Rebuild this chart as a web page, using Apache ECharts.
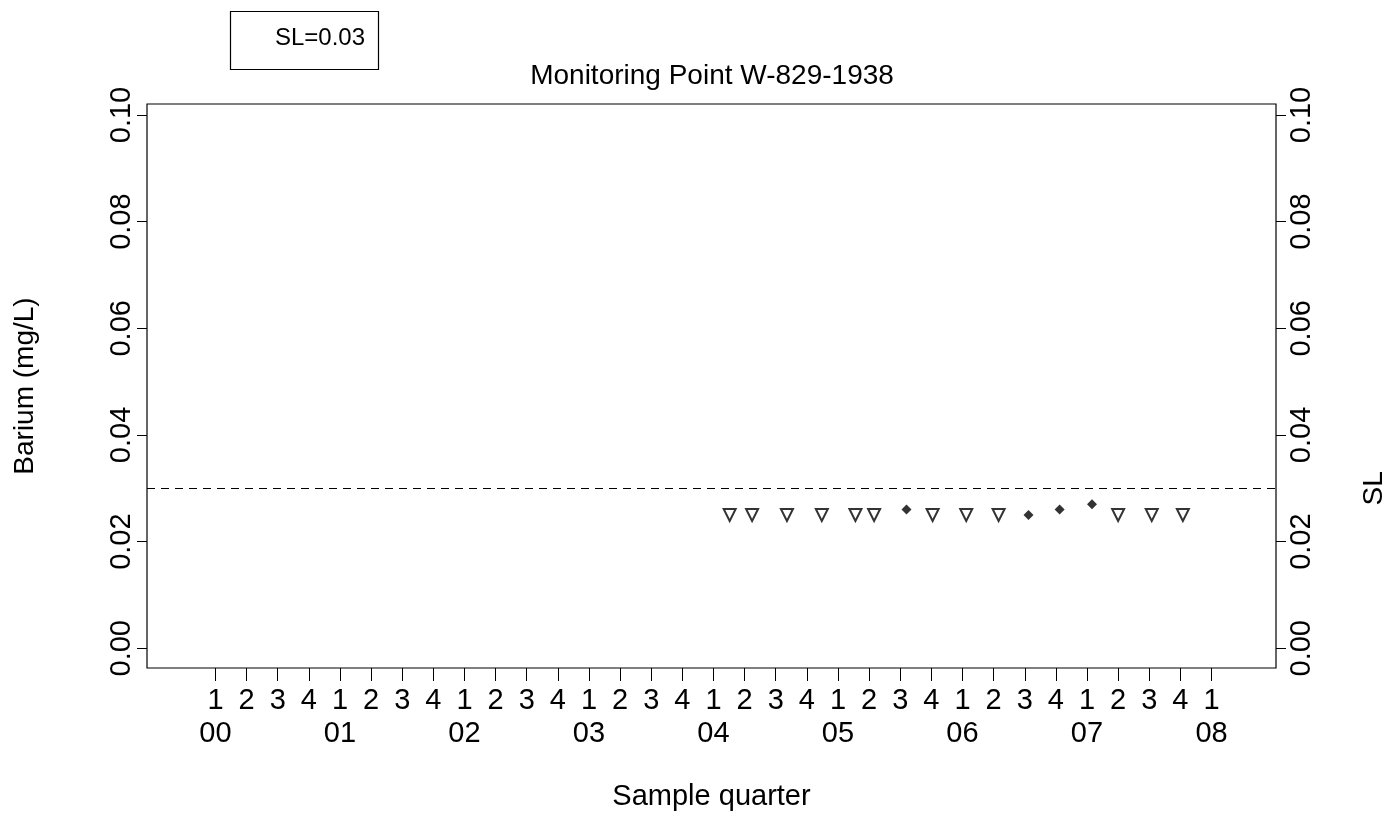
<!DOCTYPE html>
<html><head><meta charset="utf-8">
<script src="https://cdn.jsdelivr.net/npm/echarts@6/dist/echarts.min.js"></script>
<style>html,body{margin:0;padding:0;background:#fff}#c{width:1398px;height:816px}</style>
</head><body><div id="c"></div>
<script>
// ---- data ----
const chartTitle = 'Monitoring Point W-829-1938';
const yAxisTitle = 'Barium (mg/L)';
const xAxisTitle = 'Sample quarter';
const slValue = 0.03;
const legendText = 'SL=0.03';
// non-detects (open down-triangles): sample date (decimal year), value
const ndDates = [2004.13, 2004.31, 2004.59, 2004.87, 2005.14, 2005.29, 2005.76, 2006.03, 2006.29, 2007.25, 2007.52, 2007.77];
const ndValues = [0.025, 0.025, 0.025, 0.025, 0.025, 0.025, 0.025, 0.025, 0.025, 0.025, 0.025, 0.025];
// detects (filled diamonds)
const detDates = [2005.55, 2006.53, 2006.78, 2007.04];
const detValues = [0.026, 0.025, 0.026, 0.027];
// tick labels
const yearLabels = ['00', '01', '02', '03', '04', '05', '06', '07', '08'];
const quarterLabels = ['1', '2', '3', '4'];
const firstYear = 2000;
const yTicks = [0, 0.02, 0.04, 0.06, 0.08, 0.10];

// ---- build ----
const quarterTicks = [];
yearLabels.forEach((y, i) => {
  quarterLabels.forEach((q, j) => {
    if (i === yearLabels.length - 1 && j > 0) return;
    quarterTicks.push(firstYear + i + j / 4);
  });
});
function xLabel(v) {
  const k = Math.round((v - firstYear) * 4);
  const q = quarterLabels[k % 4];
  const y = (k % 4 === 0) ? yearLabels[k / 4] : ' ';
  return q + '\n' + y;
}
const FONT = "'Liberation Sans', Arial, Helvetica, sans-serif";
const X_MIN = 1999.45, X_MAX = 2008.518;
const Y_MIN = -0.0037, Y_MAX = 0.10206;

const chart = echarts.init(document.getElementById('c'), null, {renderer: 'canvas'});
const yAxisCommon = {
  type: 'value', min: Y_MIN, max: Y_MAX,
  splitLine: {show: false},
  axisLine: {show: false, onZero: false},
  axisTick: {show: true, inside: false, length: 10, lineStyle: {color: '#000', width: 1}, customValues: yTicks},
  axisLabel: {show: true, rotate: 90, fontFamily: FONT, fontSize: 29, color: '#000',
    customValues: yTicks, formatter: v => v.toFixed(2)}
};
chart.setOption({
  animation: false,
  backgroundColor: '#fff',
  title: {
    text: chartTitle, left: 712, top: 62, textAlign: 'center', padding: 0,
    textStyle: {fontFamily: FONT, fontSize: 28, fontWeight: 'normal', color: '#000'}
  },
  grid: {left: 147, right: 122, top: 104, bottom: 148, show: true, borderColor: '#000', borderWidth: 1.2, containLabel: false},
  xAxis: {
    type: 'value', min: X_MIN, max: X_MAX,
    splitLine: {show: false},
    axisLine: {show: false, onZero: false},
    axisTick: {show: true, inside: false, length: 13, lineStyle: {color: '#000', width: 1}, customValues: quarterTicks},
    axisLabel: {show: true, fontFamily: FONT, fontSize: 29, color: '#000', lineHeight: 33, margin: 16,
      customValues: quarterTicks, formatter: xLabel},
    name: xAxisTitle, nameLocation: 'middle', nameGap: 114,
    nameTextStyle: {fontFamily: FONT, fontSize: 29, color: '#000'}
  },
  yAxis: [
    Object.assign({}, yAxisCommon, {position: 'left', name: yAxisTitle, nameLocation: 'middle', nameGap: 108, nameRotate: 90,
      nameTextStyle: {fontFamily: FONT, fontSize: 28, color: '#000'}}),
    Object.assign({}, yAxisCommon, {position: 'right'})
  ],
  series: [
    {
      type: 'scatter', name: 'Non-detect',
      data: ndDates.map((d, i) => [d, ndValues[i]]),
      symbol: 'triangle', symbolRotate: 180, symbolSize: 12,
      itemStyle: {color: '#fff', borderColor: '#000', borderWidth: 2},
      markLine: {
        silent: true, symbol: 'none', label: {show: false},
        lineStyle: {color: '#000', type: [8, 6], width: 1},
        data: [{yAxis: slValue}]
      }
    },
    {
      type: 'scatter', name: 'Detect',
      data: detDates.map((d, i) => [d, detValues[i]]),
      symbol: 'diamond', symbolSize: 10,
      itemStyle: {color: '#000'}
    }
  ]
});
chart.setOption({yAxis: [{axisLabel: {margin: 11}}, {axisLabel: {margin: 11}}]});
const slY = chart.convertToPixel({yAxisIndex: 0}, slValue);
chart.setOption({
  graphic: [
    {type: 'rect', left: 228, top: 9, shape: {width: 148, height: 58}, style: {fill: 'none', stroke: '#000', lineWidth: 1.2}},
    {type: 'text', x: 365, y: 38, style: {text: legendText, fontFamily: FONT, fontSize: 24, fill: '#000', align: 'right', verticalAlign: 'middle'}},
    {type: 'text', x: 1374, y: slY, rotation: Math.PI / 2, style: {text: 'SL', fontFamily: FONT, fontSize: 28, fill: '#000', align: 'center', verticalAlign: 'middle'}}
  ]
});
</script></body></html>
